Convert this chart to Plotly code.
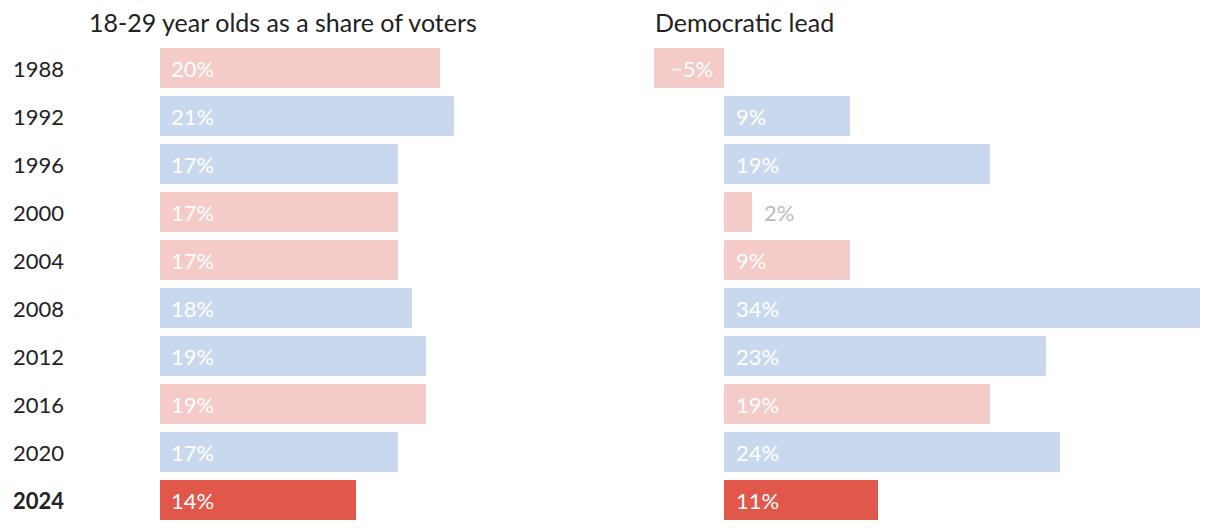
import plotly.graph_objects as go

years = ["1988", "1992", "1996", "2000", "2004", "2008", "2012", "2016", "2020", "2024"]
youth_share = [20, 21, 17, 17, 17, 18, 19, 19, 17, 14]
dem_lead = [-5, 9, 19, 2, 9, 34, 23, 19, 24, 11]
winner = ["R", "D", "D", "R", "R", "D", "D", "R", "D", "R"]  # party of the winner
current_year = "2024"

PINK = "#F4CBC8"
BLUE = "#C9D8EE"
RED = "#E1574A"
FONT = "Lato"

def bar_color(y, w):
    if y == current_year:
        return RED
    return PINK if w == "R" else BLUE

colors = [bar_color(y, w) for y, w in zip(years, winner)]
rows = list(range(len(years)))

# page body has an 8px margin, so figure pixel = screen pixel - 8
W, H = 1204, 522
fig = go.Figure()
fig.add_trace(go.Bar(y=rows, x=youth_share, orientation="h", width=40 / 48,
                     marker=dict(color=colors, line_width=0),
                     xaxis="x", yaxis="y", hoverinfo="skip"))
fig.add_trace(go.Bar(y=rows, x=dem_lead, orientation="h", width=40 / 48,
                     marker=dict(color=colors, line_width=0),
                     xaxis="x2", yaxis="y", hoverinfo="skip"))

ann = []
for r, v in zip(rows, youth_share):
    ann.append(dict(x=0, y=r, xref="x", yref="y", text=f"{v}%", xanchor="left", yanchor="middle",
                    xshift=9, showarrow=False, font=dict(family=FONT, size=22, color="white")))
for r, v in zip(rows, dem_lead):
    if 0 <= v < 4:
        ann.append(dict(x=v, y=r, xref="x2", yref="y", text=f"{v}%", xanchor="left", yanchor="middle",
                        xshift=10, showarrow=False, font=dict(family=FONT, size=22, color="#BBBBBB")))
    else:
        txt = f"{v}%" if v >= 0 else f"\u2212{abs(v)}%"
        ann.append(dict(x=min(0, v), y=r, xref="x2", yref="y", text=txt, xanchor="left", yanchor="middle",
                        xshift=14 if v < 0 else 10, showarrow=False,
                        font=dict(family=FONT, size=22, color="white")))
for r, y in zip(rows, years):
    ann.append(dict(x=3 / W, y=r, xref="paper", yref="y", text=f"<b>{y}</b>" if y == current_year else y,
                    xanchor="left", yanchor="middle", showarrow=False,
                    font=dict(family=FONT, size=22, color="#222222")))
ann.append(dict(x=79 / W, y=1, xref="paper", yref="paper", yshift=5, text="18-29 year olds as a share of voters",
                xanchor="left", yanchor="bottom", showarrow=False, font=dict(family=FONT, size=25, color="#222222")))
ann.append(dict(x=645 / W, y=1, xref="paper", yref="paper", yshift=5, text="Democratic lead",
                xanchor="left", yanchor="bottom", showarrow=False, font=dict(family=FONT, size=25, color="#222222")))

fig.update_layout(
    width=W, height=H,
    margin=dict(l=0, r=0, t=36, b=H - 36 - 480),
    plot_bgcolor="white", paper_bgcolor="white",
    showlegend=False,
    xaxis=dict(domain=[152 / W, 632 / W], range=[0, 480 / 14], visible=False, fixedrange=True),
    xaxis2=dict(domain=[646 / W, 1192 / W], range=[-5, 34], visible=False, fixedrange=True),
    yaxis=dict(range=[len(years) - 0.5, -0.5], visible=False, fixedrange=True),
    annotations=ann,
)
fig.write_html("out.html")
